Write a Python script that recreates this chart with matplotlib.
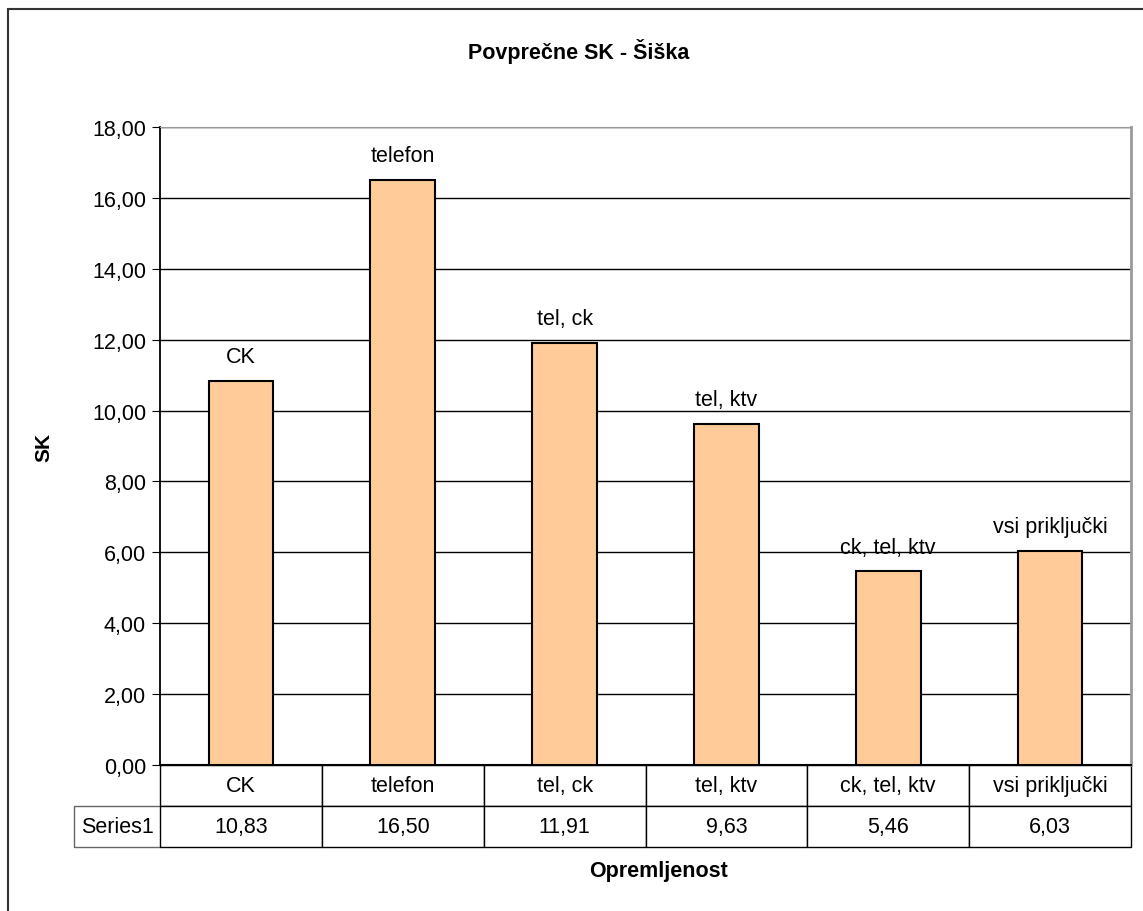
import matplotlib.pyplot as plt
from matplotlib.patches import Rectangle

plt.rcParams['font.family'] = ['Liberation Sans', 'DejaVu Sans']

categories = ['CK', 'telefon', 'tel, ck', 'tel, ktv', 'ck, tel, ktv', 'vsi priključki']
values = [10.83, 16.50, 11.91, 9.63, 5.46, 6.03]
series_name = 'Series1'
yticks = [0, 2, 4, 6, 8, 10, 12, 14, 16, 18]

W, H = 1143, 912
fig = plt.figure(figsize=(W / 100, H / 100), dpi=100)

# outer chart border (runs off right and bottom edge)
fig.patches.append(Rectangle((8 / W, -0.05), 1.1, 1 - 10 / H + 0.05,
                             transform=fig.transFigure, fill=False,
                             edgecolor='#333333', lw=1.5))

left, right, top, bottom = 160, 1131, 128, 766
ax = fig.add_axes([left / W, 1 - bottom / H, (right - left) / W, (bottom - top) / H])

x = list(range(len(categories)))
ax.bar(x, values, width=0.4, color='#FFCC99', edgecolor='black', lw=1.5, zorder=3)
for xi, v, c in zip(x, values, categories):
    ax.annotate(c, (xi, v), xytext=(0, 10), textcoords='offset points',
                ha='center', va='bottom', fontsize=15.5, zorder=4)

ax.set_xlim(-0.5, len(categories) - 0.5)
ax.set_ylim(0, 18)
ax.set_yticks(yticks)
ax.yaxis.set_major_formatter(plt.FuncFormatter(lambda v, p: ('%.2f' % v).replace('.', ',')))
ax.grid(axis='y', color='black', lw=1, zorder=0)
ax.tick_params(axis='y', direction='out', length=6, labelsize=15.5, pad=4)
ax.set_xticks([])
ax.spines['top'].set_color('#999999')
ax.spines['right'].set_color('#999999')
ax.spines['right'].set_linewidth(2)
ax.spines['left'].set_linewidth(1.3)
ax.spines['bottom'].set_linewidth(1.5)

# data table under the axis
aw = right - left
ah = bottom - top
cell_text = [[''] + categories,
             [series_name] + [('%.2f' % v).replace('.', ',') for v in values]]
tab = ax.table(cellText=cell_text, cellLoc='center',
               colWidths=[86] + [aw / 6] * 6,
               bbox=[-86 / aw, -82 / ah, (aw + 86) / aw, 82 / ah])
tab.auto_set_font_size(False)
tab.set_fontsize(15.5)
for (r, c), cell in tab.get_celld().items():
    cell.set_linewidth(1)
    if r == 0 and c == 0:
        cell.visible_edges = ''
    if r == 1 and c == 0:
        cell.visible_edges = 'BLT'
        cell.set_edgecolor('#666666')
        cell._loc = 'left'
        cell.PAD = 0.02

fig.text(579 / W, 1 - 51 / H, 'Povprečne SK - Šiška', ha='center', va='center',
         fontsize=15.5, fontweight='bold')
ax.set_ylabel('SK', fontsize=15, fontweight='bold', labelpad=0)
ax.yaxis.set_label_coords(-(left - 53) / aw, 0.5)
fig.text(659 / W, 1 - 872 / H, 'Opremljenost', ha='center', va='center',
         fontsize=15.5, fontweight='bold')

fig.savefig('out.png', dpi=100)
